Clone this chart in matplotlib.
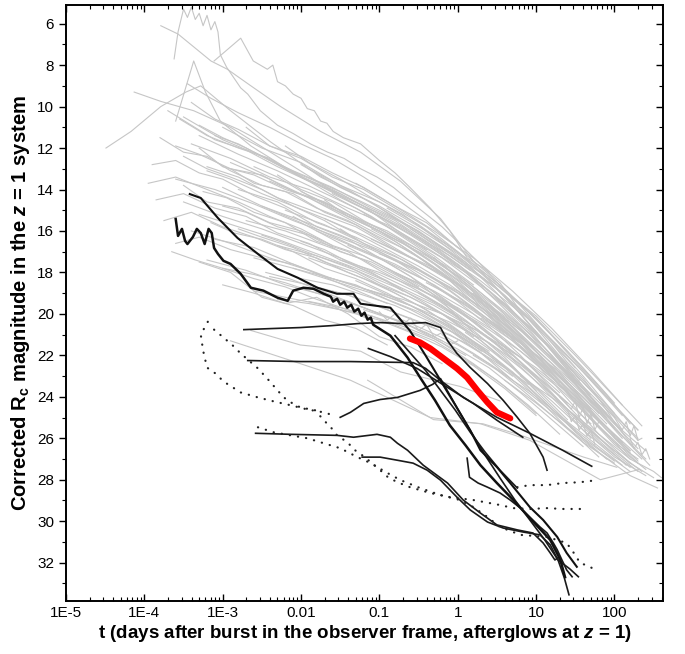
import numpy as np
import matplotlib
matplotlib.use('Agg')
import matplotlib.pyplot as plt
from matplotlib.ticker import LogLocator, MultipleLocator, NullFormatter

# ---- data: log10(t / days) and corrected Rc magnitudes ----

# light gray: the bulk of the afterglow sample
gray_logt = [
    [-3.62, -3.57, -3.50, -3.45, -3.40, -3.35, -3.30, -3.25, -3.20, -3.15, -3.10, -3.06, -3.03, -2.95, -2.86,
     -2.77, -2.68, -2.52, -2.30, -2.10, -1.88, -1.66, -1.45, -1.24, -1.03, -0.82, -0.50, -0.20, 0.10, 0.40],
    [-3.11, -2.77, -2.61, -2.43, -2.36, -2.30, -2.20, -2.10, -2.00, -1.92, -1.83, -1.75, -1.67, -1.59, -1.46,
     -1.24, -1.00, -0.80, -0.61, -0.35, -0.10, 0.12, 0.33, 0.54, 0.75, 0.96, 1.18, 1.39, 1.60, 1.82, 2.05, 2.24],
    [-3.60, -3.37, -3.22, -3.03, -2.64, -2.13, -1.62, -0.99, -0.35, 0.29, 0.92, 1.56],
    [-4.13, -3.79, -3.37, -2.90, -2.39, -1.88, -1.37, -0.73, -0.10, 0.54, 1.18, 1.69],
    [-4.49, -4.17, -3.79, -3.47, -3.28, -2.90, -2.39, -1.75, -1.11, -0.48, 0.16],
    [-3.79, -3.57, -3.15, -2.94, -2.64, -2.26, -1.75, -1.24, -0.73, -0.22, 0.29, 0.80, 1.31, 1.82],
    [-3.5, -3.0, -2.5, -2.0, -1.5, -1.0, -0.5, 0.0, 0.5, 1.0, 1.5],
    [-3.4, -2.9, -2.4, -1.9, -1.4, -0.9, -0.4, 0.1, 0.6, 1.1, 1.6, 2.0],
    [-3.2, -2.8, -2.3, -1.8, -1.3, -0.8, -0.3, 0.2, 0.7, 1.2, 1.7],
    [-3.6, -3.1, -2.6, -2.1, -1.6, -1.1, -0.6, -0.1, 0.4, 0.9, 1.4, 1.9],
    [-3.0, -2.5, -2.0, -1.5, -1.0, -0.5, 0.0, 0.5, 1.0, 1.5, 2.0, 2.3],
    [-2.8, -2.3, -1.8, -1.3, -0.8, -0.3, 0.2, 0.7, 1.2],
    [-2.6, -2.1, -1.6, -1.1, -0.6, -0.1, 0.4, 0.9, 1.4, 1.9, 2.2],
    [-3.3, -2.8, -2.3, -1.8, -1.3, -0.8, -0.3, 0.2, 0.7],
    [-2.4, -1.9, -1.4, -0.9, -0.4, 0.1, 0.6, 1.1, 1.6, 2.1],
    [-2.2, -1.7, -1.2, -0.7, -0.2, 0.3, 0.8, 1.3, 1.8],
    [-3.1, -2.6, -2.1, -1.6, -1.1, -0.6, -0.1, 0.4],
    [-2.0, -1.5, -1.0, -0.5, 0.0, 0.5, 1.0, 1.5, 2.0, 2.35],
    [-1.8, -1.3, -0.8, -0.3, 0.2, 0.7, 1.2, 1.7],
    [-2.7, -2.2, -1.7, -1.2, -0.7, -0.2, 0.3, 0.8, 1.3],
    [-1.6, -1.1, -0.6, -0.1, 0.4, 0.9, 1.4, 1.9, 2.3],
    [-3.5, -3.0, -2.5, -2.0, -1.5, -1.0, -0.5, 0.0],
    [-2.5, -2.0, -1.5, -1.0, -0.5, 0.0, 0.5, 1.0, 1.5, 2.0],
    [-1.4, -0.9, -0.4, 0.1, 0.6, 1.1, 1.6, 2.1],
    [-2.9, -2.4, -1.9, -1.4, -0.9, -0.4, 0.1, 0.6, 1.1],
    [-1.2, -0.7, -0.2, 0.3, 0.8, 1.3, 1.8, 2.2],
    [-2.3, -1.8, -1.3, -0.8, -0.3, 0.2, 0.7, 1.2, 1.7],
    [-1.0, -0.5, 0.0, 0.5, 1.0, 1.5, 2.0, 2.4],
    [-3.0, -2.5, -2.0, -1.5, -1.0, -0.5],
    [-1.9, -1.4, -0.9, -0.4, 0.1, 0.6, 1.1, 1.6, 2.1],
    [-0.8, -0.3, 0.2, 0.7, 1.2, 1.7, 2.2],
    [-2.1, -1.6, -1.1, -0.6, -0.1, 0.4, 0.9, 1.4],
    [-0.6, -0.1, 0.4, 0.9, 1.4, 1.9, 2.3],
    [-1.5, -1.0, -0.5, 0.0, 0.5, 1.0, 1.5],
    [-3.3, -2.8, -2.3, -1.8, -1.3, -0.8, -0.3, 0.2],
    [-0.4, 0.1, 0.6, 1.1, 1.6, 2.1, 2.4],
    [-2.6, -2.1, -1.6, -1.1, -0.6, -0.1, 0.4, 0.9],
    [-1.3, -0.8, -0.3, 0.2, 0.7, 1.2, 1.7, 2.1],
    [-0.2, 0.3, 0.8, 1.3, 1.8, 2.2],
    [-1.7, -1.2, -0.7, -0.2, 0.3, 0.8, 1.3, 1.8],
    [0.0, 0.5, 1.0, 1.5, 2.0, 2.3],
    [-2.4, -1.9, -1.4, -0.9, -0.4, 0.1, 0.6],
    [0.3, 0.8, 1.3, 1.8, 2.2, 2.45],
    [-1.1, -0.6, -0.1, 0.4, 0.9, 1.4, 1.9],
    [-3.4, -2.9, -2.4, -1.9, -1.4, -0.9],
    [0.5, 1.0, 1.5, 2.0, 2.35],
    [-2.0, -1.5, -1.0, -0.5, 0.0, 0.5, 1.0],
    [-0.9, -0.4, 0.1, 0.6, 1.1, 1.6, 2.0],
    [0.2, 0.7, 1.2, 1.7, 2.1],
    [-3.2, -2.7, -2.2, -1.7, -1.2, -0.7, -0.2],
    [-1.2, -0.7, -0.2, 0.3, 0.8, 1.3, 1.8, 2.3],
    [-2.90, -2.13, -1.37, -0.35, 0.29, 0.92, 1.82, 2.32],
    [-2.64, -2.01, -1.24, -0.73, 0.03, 0.54],
    [-1.15, -0.31, 0.32, 0.76, 1.60, 2.03],
    [-3.3, -2.9, -2.5, -2.1, -1.7, -1.3, -0.9],
    [-3.0, -2.6, -2.2, -1.8, -1.4, -1.0, -0.6, -0.2],
    [1.30, 1.45, 1.50, 1.55, 1.60, 1.65, 1.70, 1.75, 1.80],
    [2.00, 2.10, 2.15, 2.20, 2.25, 2.30, 2.35],
    [0.8, 1.3, 1.8, 2.2, 2.5, 2.6],
]
gray_mag = [
    [7.7, 6.4, 5.3, 5.7, 5.2, 5.8, 5.5, 6.1, 5.6, 6.3, 5.9, 6.4, 7.5, 8.1, 8.6,
     9.1, 9.4, 10.2, 10.9, 11.3, 11.8, 12.2, 12.5, 13.0, 13.4, 13.9, 14.9, 15.8, 16.9, 18.0],
    [7.8, 6.7, 7.8, 8.2, 8.0, 8.8, 9.0, 9.4, 9.6, 10.1, 10.2, 10.7, 10.8, 11.2, 11.5,
     11.8, 12.6, 13.2, 13.9, 14.9, 16.0, 17.3, 17.8, 18.5, 19.6, 20.5, 21.3, 22.3, 23.1, 24.2, 25.5, 26.4],
    [10.7, 7.8, 9.3, 10.7, 11.9, 13.1, 14.1, 15.3, 16.7, 18.4, 20.3, 23.2],
    [9.3, 9.75, 10.2, 11.0, 12.2, 13.4, 14.6, 15.8, 17.2, 18.9, 21.6, 23.9],
    [12.0, 11.2, 10.0, 9.3, 9.0, 10.2, 11.7, 13.4, 14.6, 16.2, 17.9],
    [6.1, 6.5, 7.8, 8.2, 9.0, 10.0, 11.2, 12.2, 13.6, 15.4, 17.9, 20.0, 22.3, 24.6],
    [10.5, 11.6, 12.4, 13.3, 14.1, 15.0, 16.0, 17.3, 18.8, 20.6, 22.6],
    [11.8, 12.5, 13.4, 14.0, 14.9, 15.7, 16.8, 18.0, 19.5, 21.3, 23.5, 25.0],
    [12.9, 13.4, 14.4, 15.1, 15.8, 16.9, 17.8, 19.1, 20.6, 22.4, 24.6],
    [13.5, 14.0, 14.7, 15.5, 16.2, 16.9, 17.8, 18.9, 20.3, 21.7, 23.4, 25.3],
    [11.0, 12.0, 12.7, 13.8, 14.6, 15.7, 17.0, 18.5, 20.2, 22.3, 24.4, 25.6],
    [14.0, 14.6, 15.6, 16.3, 17.2, 18.3, 19.7, 21.2, 23.0],
    [12.2, 13.1, 13.9, 14.9, 15.8, 17.0, 18.3, 19.9, 21.8, 23.9, 25.3],
    [15.2, 15.8, 16.4, 17.1, 17.8, 18.6, 19.5, 20.6, 22.0],
    [13.6, 14.4, 15.3, 16.2, 17.2, 18.4, 19.9, 21.6, 23.6, 25.7],
    [15.0, 15.7, 16.6, 17.4, 18.5, 19.7, 21.1, 22.9, 24.8],
    [16.4, 16.8, 17.6, 18.3, 18.9, 19.6, 20.6, 21.8],
    [12.8, 13.9, 14.8, 15.9, 17.1, 18.6, 20.1, 22.0, 24.0, 25.4],
    [16.0, 16.8, 17.6, 18.6, 19.8, 21.3, 23.0, 25.0],
    [15.5, 16.0, 16.7, 17.4, 18.4, 19.4, 20.6, 22.1, 23.8],
    [14.2, 15.1, 16.2, 17.4, 18.9, 20.6, 22.5, 24.5, 26.0],
    [14.6, 15.3, 15.9, 16.6, 17.3, 18.1, 19.0, 20.1],
    [14.8, 15.5, 16.2, 17.0, 17.9, 19.0, 20.4, 22.0, 23.8, 25.9],
    [16.7, 17.5, 18.4, 19.6, 20.9, 22.5, 24.3, 26.2],
    [12.7, 13.5, 14.4, 15.4, 16.4, 17.5, 18.9, 20.4, 22.2],
    [15.2, 16.2, 17.3, 18.7, 20.3, 22.1, 24.1, 25.8],
    [16.7, 17.2, 17.9, 18.7, 19.6, 20.7, 22.0, 23.6, 25.3],
    [17.1, 17.9, 18.9, 20.2, 21.7, 23.4, 25.3, 26.6],
    [13.9, 14.8, 15.6, 16.6, 17.6, 18.7],
    [13.0, 14.0, 15.1, 16.3, 17.6, 19.1, 20.9, 22.8, 24.9],
    [18.0, 18.9, 20.0, 21.3, 22.9, 24.7, 26.6],
    [17.8, 18.3, 18.9, 19.6, 20.4, 21.4, 22.7, 24.3],
    [15.9, 17.1, 18.5, 20.1, 22.0, 24.0, 25.6],
    [17.4, 18.0, 18.8, 19.7, 20.9, 22.4, 24.1],
    [11.4, 12.3, 13.1, 14.0, 14.9, 16.0, 17.2, 18.6],
    [18.5, 19.5, 20.8, 22.3, 24.0, 25.9, 27.0],
    [17.3, 17.8, 18.4, 19.0, 19.8, 20.8, 22.0, 23.4],
    [13.7, 14.8, 16.0, 17.3, 18.9, 20.7, 22.7, 24.4],
    [19.4, 20.5, 21.8, 23.4, 25.2, 26.7],
    [15.4, 16.2, 17.1, 18.1, 19.3, 20.8, 22.6, 24.6],
    [17.6, 19.2, 20.9, 22.8, 24.8, 26.1],
    [18.2, 18.6, 19.1, 19.8, 20.5, 21.4, 22.6],
    [20.2, 21.4, 22.8, 24.6, 26.3, 27.3],
    [16.4, 17.3, 18.3, 19.6, 21.1, 22.8, 24.8],
    [16.0, 16.6, 17.3, 17.9, 18.7, 19.5],
    [21.3, 22.6, 24.1, 25.8, 27.0],
    [14.1, 15.0, 15.9, 16.9, 18.2, 19.7, 21.4],
    [14.9, 16.0, 17.3, 18.8, 20.6, 22.6, 24.3],
    [19.0, 20.4, 22.1, 24.0, 25.6],
    [17.4, 17.9, 18.6, 19.1, 19.7, 20.4, 21.3],
    [18.8, 19.3, 20.0, 20.9, 22.1, 23.6, 25.4, 27.2],
    [21.3, 22.25, 23.2, 25.0, 25.3, 26.1, 28.0, 27.5],
    [20.8, 21.5, 21.8, 22.8, 23.5, 24.2],
    [23.2, 25.1, 25.3, 25.8, 26.9, 27.4],
    [17.5, 18.0, 19.2, 19.6, 20.3, 20.7, 21.5],
    [18.6, 19.0, 19.5, 19.2, 20.0, 21.1, 21.6, 22.4],
    [24.0, 24.6, 24.2, 25.0, 24.5, 25.3, 24.8, 25.6, 25.2],
    [25.0, 25.6, 25.2, 25.9, 25.4, 26.1, 26.0],
    [23.0, 24.3, 25.8, 27.0, 27.6, 27.9],
]

# more light gray curves filling the dense band
band_logt = [
    [-3.9, -3.6, -3.3, -3.0, -2.6, -2.2, -1.8, -1.4, -1.0, -0.6, -0.2, 0.2],
    [-3.8, -3.5, -3.2, -2.9, -2.5, -2.1, -1.7, -1.3, -0.9, -0.5, -0.1, 0.3, 0.7],
    [-3.7, -3.4, -3.1, -2.7, -2.3, -1.9, -1.5, -1.1, -0.7, -0.3, 0.1, 0.5, 0.9, 1.3],
    [-3.6, -3.3, -2.9, -2.5, -2.1, -1.7, -1.3, -0.9, -0.5, -0.1, 0.3, 0.7, 1.1, 1.5, 1.9],
    [-3.5, -3.2, -2.8, -2.4, -2.0, -1.6, -1.2, -0.8, -0.4, 0.0, 0.4],
    [-3.85, -3.5, -3.1, -2.7, -2.3, -1.9, -1.5, -1.1, -0.7],
    [-3.4, -3.1, -2.8, -2.4, -2.0, -1.6, -1.2, -0.8, -0.4, 0.0, 0.4, 0.8, 1.2, 1.6, 2.0],
    [-3.3, -3.0, -2.6, -2.2, -1.8, -1.4, -1.0, -0.6, -0.2, 0.2, 0.6, 1.0, 1.4],
    [-3.2, -2.9, -2.5, -2.1, -1.7, -1.3, -0.9, -0.5, -0.1, 0.3, 0.7, 1.1, 1.5, 1.9, 2.2],
    [-3.75, -3.4, -3.0, -2.6, -2.2, -1.8, -1.4, -1.0, -0.6, -0.2, 0.2],
    [-3.1, -2.8, -2.4, -2.0, -1.6, -1.2, -0.8, -0.4, 0.0, 0.4, 0.8, 1.2, 1.6, 2.0],
    [-3.6, -3.3, -2.9, -2.5, -2.1, -1.7, -1.3, -0.9, -0.5, -0.1, 0.3, 0.7],
    [-2.9, -2.6, -2.2, -1.8, -1.4, -1.0, -0.6, -0.2, 0.2, 0.6, 1.0, 1.4, 1.8, 2.2],
    [-3.45, -3.15, -2.8, -2.4, -2.0, -1.6, -1.2, -0.8, -0.4, 0.0],
    [-3.0, -2.7, -2.3, -1.9, -1.5, -1.1, -0.7, -0.3, 0.1, 0.5, 0.9, 1.3, 1.7],
    [-2.7, -2.4, -2.0, -1.6, -1.2, -0.8, -0.4, 0.0, 0.4, 0.8, 1.2, 1.6, 2.0, 2.3],
    [-2.5, -2.2, -1.8, -1.4, -1.0, -0.6, -0.2, 0.2, 0.6, 1.0, 1.4],
    [-3.55, -3.2, -2.8, -2.4, -2.0, -1.6, -1.2, -0.8, -0.4],
    [-2.3, -2.0, -1.6, -1.2, -0.8, -0.4, 0.0, 0.4, 0.8, 1.2, 1.6, 2.0, 2.4],
    [-1.9, -1.6, -1.2, -0.8, -0.4, 0.0, 0.4, 0.8, 1.2, 1.6, 2.0],
    [-3.25, -2.95, -2.6, -2.2, -1.8, -1.4, -1.0, -0.6, -0.2, 0.2, 0.6, 1.0],
    [-2.2, -1.9, -1.5, -1.1, -0.7, -0.3, 0.1, 0.5, 0.9, 1.3, 1.7, 2.1],
    [-1.5, -1.2, -0.8, -0.4, 0.0, 0.4, 0.8, 1.2, 1.6, 2.0, 2.3],
    [-3.65, -3.35, -3.0, -2.6, -2.2, -1.8, -1.4, -1.0],
    [-2.8, -2.5, -2.1, -1.7, -1.3, -0.9, -0.5, -0.1, 0.3, 0.7, 1.1, 1.5, 1.9],
    [-1.7, -1.4, -1.0, -0.6, -0.2, 0.2, 0.6, 1.0, 1.4, 1.8, 2.2],
    [-0.9, -0.6, -0.2, 0.2, 0.6, 1.0, 1.4, 1.8, 2.15],
    [-2.6, -2.3, -1.9, -1.5, -1.1, -0.7, -0.3, 0.1, 0.5],
    [-3.15, -2.85, -2.5, -2.1, -1.7, -1.3, -0.9, -0.5, -0.1, 0.3],
    [-0.5, -0.2, 0.2, 0.6, 1.0, 1.4, 1.8, 2.2, 2.5],
    [-2.0, -1.7, -1.3, -0.9, -0.5, -0.1, 0.3, 0.7, 1.1, 1.5],
    [-3.95, -3.6, -3.2, -2.8, -2.4, -2.0, -1.6],
    [-1.1, -0.8, -0.4, 0.0, 0.4, 0.8, 1.2, 1.6, 2.0, 2.3],
    [-2.45, -2.15, -1.8, -1.4, -1.0, -0.6, -0.2, 0.2, 0.6, 1.0],
    [-0.3, 0.0, 0.4, 0.8, 1.2, 1.6, 2.0, 2.3],
    [-3.3, -3.0, -2.7, -2.3, -1.9, -1.5, -1.1, -0.7, -0.3, 0.1, 0.5, 0.9, 1.3],
    [0.1, 0.4, 0.8, 1.2, 1.6, 2.0, 2.4],
    [-1.3, -1.0, -0.6, -0.2, 0.2, 0.6, 1.0, 1.4, 1.8],
    [-3.5, -3.2, -2.9, -2.5, -2.1, -1.7, -1.3],
    [-2.1, -1.8, -1.4, -1.0, -0.6, -0.2, 0.2, 0.6, 1.0, 1.4, 1.8, 2.2],
]
band_mag = [
    [12.8, 12.6, 13.2, 13.5, 14.3, 14.9, 15.8, 16.4, 17.3, 18.2, 19.4, 20.9],
    [11.5, 12.2, 12.4, 13.1, 13.8, 14.2, 15.1, 15.7, 16.6, 17.5, 18.4, 19.8, 21.2],
    [10.2, 10.9, 11.6, 12.1, 12.9, 13.6, 14.2, 15.0, 15.8, 16.9, 18.0, 19.4, 20.9, 22.6],
    [11.9, 12.3, 13.0, 13.3, 14.1, 14.6, 15.4, 16.0, 16.9, 17.8, 19.0, 20.3, 21.8, 23.3, 25.0],
    [13.8, 14.6, 14.9, 15.6, 16.0, 16.7, 17.2, 18.0, 18.7, 19.8, 21.0],
    [14.5, 14.2, 14.9, 15.3, 16.1, 16.6, 17.4, 18.0, 18.9],
    [9.8, 10.6, 11.1, 11.9, 12.4, 13.2, 13.9, 14.8, 15.6, 16.8, 18.1, 19.6, 21.3, 23.0, 24.8],
    [12.0, 12.9, 13.3, 14.0, 14.5, 15.3, 16.0, 16.8, 17.8, 18.9, 20.3, 21.8, 23.4],
    [13.1, 13.5, 14.2, 14.8, 15.4, 16.1, 16.9, 17.7, 18.6, 19.7, 21.0, 22.4, 24.0, 25.6, 26.6],
    [15.5, 15.1, 15.8, 16.3, 16.9, 17.3, 18.0, 18.6, 19.2, 20.0, 21.1],
    [11.4, 11.8, 12.6, 13.4, 14.1, 14.8, 15.5, 16.5, 17.6, 18.9, 20.4, 22.0, 23.8, 25.5],
    [16.6, 16.3, 16.9, 17.3, 17.6, 18.2, 18.6, 19.3, 19.9, 20.8, 21.9, 23.2],
    [13.0, 13.7, 14.1, 14.9, 15.5, 16.3, 17.0, 18.0, 19.1, 20.5, 22.0, 23.7, 25.4, 27.0],
    [8.9, 9.6, 10.3, 11.0, 11.8, 12.5, 13.4, 14.4, 15.5, 16.8],
    [14.8, 15.1, 15.8, 16.2, 17.0, 17.5, 18.3, 19.2, 20.3, 21.5, 22.9, 24.4, 26.0],
    [11.0, 11.9, 12.5, 13.4, 14.0, 14.9, 15.8, 17.0, 18.4, 20.0, 21.8, 23.6, 25.3, 26.5],
    [16.2, 16.6, 17.2, 17.7, 18.5, 19.2, 20.0, 21.0, 22.2, 23.6, 25.1],
    [10.6, 11.4, 12.0, 12.5, 13.4, 14.0, 14.8, 15.9, 16.9],
    [13.3, 14.0, 14.6, 15.5, 16.3, 17.3, 18.4, 19.8, 21.3, 23.0, 24.7, 26.3, 27.5],
    [17.3, 17.7, 18.3, 19.0, 19.8, 20.8, 21.9, 23.2, 24.6, 26.0, 27.1],
    [14.1, 14.4, 15.1, 15.6, 16.5, 17.0, 17.9, 18.7, 19.6, 20.8, 22.1, 23.7],
    [11.9, 12.7, 13.5, 14.4, 15.2, 16.3, 17.5, 19.0, 20.7, 22.5, 24.3, 26.0],
    [15.9, 16.6, 17.4, 18.4, 19.4, 20.6, 22.0, 23.6, 25.2, 26.7, 27.6],
    [17.0, 17.4, 17.8, 18.3, 18.7, 19.3, 19.8, 20.5],
    [15.9, 16.3, 16.8, 17.5, 18.0, 18.8, 19.6, 20.5, 21.6, 22.8, 24.2, 25.7, 27.0],
    [14.5, 15.3, 16.0, 17.0, 18.1, 19.3, 20.8, 22.4, 24.1, 25.8, 27.2],
    [17.8, 18.4, 19.3, 20.4, 21.6, 23.0, 24.6, 26.1, 27.3],
    [12.9, 13.4, 14.3, 15.0, 15.8, 16.6, 17.6, 18.8, 20.1],
    [15.6, 16.1, 16.4, 17.0, 17.8, 18.3, 19.0, 19.8, 20.7, 21.8],
    [19.0, 19.6, 20.6, 21.8, 23.1, 24.6, 26.0, 27.2, 27.9],
    [16.5, 16.9, 17.7, 18.4, 19.3, 20.2, 21.3, 22.6, 24.1, 25.6],
    [13.7, 13.4, 14.0, 14.6, 15.3, 15.9, 16.7],
    [15.9, 16.5, 17.5, 18.6, 19.9, 21.4, 23.0, 24.7, 26.2, 27.0],
    [18.0, 18.3, 18.8, 19.4, 20.0, 20.6, 21.4, 22.4, 23.5, 24.8],
    [17.3, 18.2, 19.5, 21.0, 22.6, 24.3, 26.0, 27.1],
    [10.9, 11.5, 12.0, 12.8, 13.6, 14.5, 15.3, 16.3, 17.3, 18.6, 20.0, 21.6, 23.3],
    [20.9, 21.7, 22.9, 24.2, 25.6, 26.9, 27.8],
    [18.4, 18.9, 19.6, 20.4, 21.4, 22.6, 24.0, 25.5, 26.9],
    [12.4, 13.0, 13.4, 14.0, 14.8, 15.5, 16.4],
    [15.3, 15.9, 16.6, 17.3, 18.2, 19.2, 20.3, 21.6, 23.1, 24.7, 26.2, 27.4],
]

# light gray curves in the lower, fainter part of the band
lower_logt = [
    [-2.6, -2.2, -1.8, -1.4, -1.0, -0.6, -0.2, 0.2, 0.6, 1.0],
    [-1.9, -1.5, -1.1, -0.7, -0.3, 0.1, 0.5, 0.9, 1.3],
    [-1.2, -0.8, -0.4, 0.0, 0.4, 0.8, 1.2, 1.6],
    [-0.7, -0.4, 0.0, 0.4, 0.8, 1.2, 1.6, 2.0],
    [-2.3, -1.9, -1.5, -1.1, -0.7, -0.3, 0.1],
    [-0.2, 0.2, 0.6, 1.0, 1.4, 1.8, 2.2],
    [-1.6, -1.3, -0.9, -0.5, -0.1, 0.3, 0.7],
    [0.2, 0.5, 0.9, 1.3, 1.7, 2.1],
    [-1.0, -0.9, -0.8, -0.7, -0.6, -0.5, -0.4, -0.3, -0.2, -0.1, 0.0],
    [-3.0, -2.6, -2.2, -1.8, -1.4, -1.0],
    [1.40, 1.45, 1.50, 1.55, 1.60, 1.65, 1.70, 1.75],
    [2.20, 2.25, 2.30, 2.35, 2.40, 2.45],
    [-0.4, 0.0, 0.4, 0.8, 1.2, 1.6, 2.0, 2.35],
    [-2.0, -1.6, -1.2, -0.8, -0.4, 0.0, 0.4],
    [0.6, 1.0, 1.4, 1.8, 2.2, 2.55],
]
lower_mag = [
    [18.9, 19.2, 19.5, 19.9, 20.3, 20.9, 21.6, 22.5, 23.6, 24.9],
    [19.4, 19.7, 20.1, 20.7, 21.3, 22.2, 23.2, 24.4, 25.8],
    [19.8, 20.3, 20.9, 21.7, 22.6, 23.8, 25.1, 26.4],
    [20.3, 20.8, 21.5, 22.4, 23.6, 24.9, 26.2, 27.2],
    [19.3, 19.5, 19.8, 20.1, 20.6, 21.2, 22.0],
    [21.0, 21.9, 22.9, 24.1, 25.3, 26.5, 27.6],
    [18.9, 19.2, 19.8, 20.4, 21.0, 21.9, 23.0],
    [22.0, 22.7, 23.7, 24.9, 26.1, 27.3],
    [19.9, 20.3, 20.0, 20.5, 20.2, 20.8, 20.5, 21.1, 20.9, 21.5, 21.3],
    [17.8, 18.1, 18.5, 19.0, 19.4, 20.0],
    [24.6, 25.2, 24.9, 25.6, 25.3, 25.9, 25.6, 26.3],
    [26.0, 26.5, 26.2, 26.8, 26.5, 27.0],
    [19.6, 20.4, 21.4, 22.6, 23.9, 25.3, 26.6, 27.6],
    [18.3, 18.6, 19.1, 19.6, 20.3, 21.0, 21.9],
    [23.2, 24.3, 25.5, 26.7, 27.8, 28.4],
]

# black: the dark / sub-luminous afterglows
k1_logt = [-3.42, -3.28, -3.06, -2.81, -2.55, -2.30, -2.04, -1.79, -1.54, -1.33, -1.24, -0.86, -0.61,
           -0.41, -0.22, -0.03, 0.16, 0.29, 0.50, 0.67, 0.92, 1.09, 1.27, 1.39, 1.52]
k1_mag = [14.22, 14.41, 15.38, 16.34, 17.11, 17.83, 18.26, 18.74, 19.03, 19.03, 19.51, 19.70, 20.81,
          22.01, 23.21, 24.41, 25.62, 26.58, 27.39, 28.16, 29.32, 29.94, 30.76, 31.53, 32.20]

b1_logt = [-3.60, -3.57, -3.52, -3.48, -3.45, -3.38, -3.33, -3.28, -3.23, -3.18, -3.14, -3.11, -3.06,
           -2.99, -2.90, -2.77, -2.64, -2.48, -2.30, -2.17, -2.10, -1.97, -1.84, -1.71, -1.62, -1.59,
           -1.54, -1.50, -1.45, -1.41, -1.36, -1.32, -1.27, -1.23, -1.19, -1.15, -1.11, -1.08, -0.86,
           -0.64, -0.48, -0.29, -0.10, 0.10, 0.29, 0.50, 0.71, 0.92, 1.18, 1.31, 1.37]
b1_mag = [15.42, 16.24, 15.90, 16.48, 16.63, 16.29, 15.90, 16.10, 16.63, 15.90, 16.10, 16.82, 17.11,
          17.44, 17.59, 18.07, 18.74, 18.88, 19.22, 19.37, 18.88, 18.74, 18.79, 19.03, 19.17, 19.41,
          19.27, 19.56, 19.41, 19.70, 19.56, 19.89, 19.75, 20.09, 19.94, 20.28, 20.18, 20.52, 21.05,
          22.11, 23.07, 24.17, 25.38, 26.34, 27.30, 28.16, 28.98, 29.85, 30.90, 31.87, 32.70]

h21_logt = [-2.73, -2.39, -2.01, -1.62, -1.28, -0.99, -0.69, -0.41, -0.22, -0.13, -0.01, 0.16, 0.38,
            0.58, 0.76, 0.92, 1.09, 1.14]
h21_mag = [20.76, 20.71, 20.66, 20.57, 20.47, 20.42, 20.47, 20.42, 20.66, 21.29, 21.91, 22.59, 23.36,
           24.17, 24.99, 25.76, 26.91, 27.54]

h22_logt = [-2.68, -2.01, -1.37, -0.57, -0.41, -0.22, 0.07, 0.50, 0.92, 1.34, 1.71]
h22_mag = [22.25, 22.30, 22.30, 22.35, 22.63, 23.21, 24.03, 24.99, 25.76, 26.58, 27.35]

l215_logt = [-1.14, -0.86, -0.52, -0.13, 0.20, 0.50, 0.83]
l215_mag = [21.67, 22.06, 22.63, 23.55, 24.32, 25.13, 25.95]

lg_logt = [-1.50, -1.37, -1.20, -0.99, -0.77, -0.48, -0.32, -0.22, -0.12, 0.01, 0.16, 0.35, 0.54,
           0.73, 0.92, 1.11, 1.28, 1.43, 1.54]
lg_mag = [24.99, 24.75, 24.32, 24.13, 24.03, 23.69, 23.40, 23.12, 23.79, 24.65, 25.62, 26.82, 27.92,
          28.98, 29.94, 30.90, 31.87, 32.30, 32.68]

le_logt = [-2.58, -2.13, -1.54, -1.33, -1.03, -0.86, -0.77, -0.64, -0.44, -0.13, 0.07, 0.29, 0.50,
           0.76, 0.96, 1.09, 1.18, 1.24, 1.28]
le_mag = [25.76, 25.81, 25.86, 25.95, 25.81, 25.95, 26.24, 26.58, 27.30, 28.16, 28.98, 29.61, 30.18,
          30.42, 30.57, 31.05, 31.53, 31.87, 31.77]

lf_logt = [-1.22, -0.99, -0.77, -0.57, -0.39, -0.22, -0.01, 0.16, 0.38, 0.58, 0.83, 1.05, 1.18, 1.28,
           1.36, 1.42]
lf_mag = [26.91, 26.91, 27.06, 27.20, 27.54, 28.02, 28.84, 29.46, 30.04, 30.33, 30.52, 30.66, 31.14,
          31.87, 32.73, 33.55]

ld_logt = [0.12, 0.15, 0.26, 0.38, 0.54, 0.67, 0.80, 0.92, 1.05, 1.14, 1.22, 1.27, 1.33, 1.39, 1.46]
ld_mag = [26.96, 27.88, 28.16, 28.36, 28.64, 28.98, 29.37, 29.80, 30.28, 30.57, 31.05, 31.38, 31.87,
          32.35, 32.68]

lx_logt = [-0.80, -0.61, -0.41, -0.22, -0.03, 0.16, 0.35, 0.54, 0.76]
lx_mag = [21.05, 21.87, 22.73, 23.69, 24.65, 25.71, 26.67, 27.54, 28.40]

# dotted black
dota_logt = [-3.19, -3.28, -3.25, -3.20, -3.09, -2.99, -2.87, -2.77, -2.55, -2.35, -2.13, -1.92, -1.71, -1.59]
dota_mag = [20.38, 21.00, 21.77, 22.59, 22.88, 23.26, 23.55, 23.79, 24.03, 24.22, 24.41, 24.61, 24.75, 24.89]

dotb_logt = [-3.11, -2.99, -2.87, -2.77, -2.55, -2.41, -2.30, -2.22, -2.13, -2.01, -1.82, -1.71, -1.62,
             -1.54, -1.41, -1.31, -1.20, -1.11, -0.99, -0.89, -0.77, -0.61, -0.35, -0.10, 0.20, 0.54,
             0.71, 0.92, 1.14, 1.34, 1.56]
dotb_mag = [20.76, 21.14, 21.53, 21.91, 22.63, 23.21, 23.69, 24.03, 24.27, 24.51, 24.65, 25.13, 25.47,
            25.86, 26.19, 26.58, 26.87, 27.15, 27.54, 27.88, 28.12, 28.36, 28.64, 28.84, 28.98, 29.22,
            29.37, 29.41, 29.37, 29.41, 29.41]

dotc_logt = [-2.55, -2.35, -2.13, -1.92, -1.71, -1.50, -1.28, -1.11, -0.92, -0.73, -0.48, -0.22, 0.03,
             0.20, 0.38, 0.54, 0.80, 1.14, 1.39, 1.50, 1.56, 1.69, 1.78]
dotc_mag = [25.47, 25.71, 25.86, 26.00, 26.24, 26.48, 26.91, 27.20, 27.63, 28.02, 28.40, 28.74, 28.98,
            29.32, 29.80, 30.28, 30.66, 30.76, 31.05, 31.63, 32.01, 32.20, 32.44]

dotd_logt = [0.76, 0.92, 1.14, 1.34, 1.56, 1.78]
dotd_mag = [28.36, 28.26, 28.26, 28.16, 28.12, 28.02]

# red: the highlighted afterglow
red_logt = [-0.61, -0.48, -0.35, -0.18, -0.01, 0.12, 0.25, 0.38, 0.50, 0.67]
red_mag = [21.19, 21.38, 21.67, 22.15, 22.63, 23.07, 23.69, 24.27, 24.75, 25.04]

xtick_values = [1e-5, 1e-4, 1e-3, 0.01, 0.1, 1, 10, 100]
xtick_labels = ['1E-5', '1E-4', '1E-3', '0.01', '0.1', '1', '10', '100']


def days(logt):
    return 10 ** np.asarray(logt)


def afterglow_chart():
    plt.rcParams['font.family'] = ['Liberation Sans', 'DejaVu Sans']
    plt.rcParams['mathtext.fontset'] = 'custom'
    plt.rcParams['mathtext.rm'] = 'Liberation Sans:bold'
    plt.rcParams['mathtext.it'] = 'Liberation Sans:italic:bold'
    plt.rcParams['mathtext.bf'] = 'Liberation Sans:bold'

    fig = plt.figure(figsize=(6.85, 6.54), dpi=100)
    ax = fig.add_axes([66 / 685, 53 / 654, 597 / 685, 596 / 654])

    for lt, mag in zip(gray_logt + band_logt + lower_logt, gray_mag + band_mag + lower_mag):
        ax.plot(days(lt), mag, color='#c6c6c6', lw=0.8, zorder=1)

    solid = [(h21_logt, h21_mag), (h22_logt, h22_mag), (l215_logt, l215_mag), (lg_logt, lg_mag),
             (le_logt, le_mag), (lf_logt, lf_mag), (ld_logt, ld_mag), (lx_logt, lx_mag)]
    for lt, mag in solid:
        ax.plot(days(lt), mag, color='#1a1a1a', lw=1.2, zorder=3)
    ax.plot(days(k1_logt), k1_mag, color='#111111', lw=1.5, zorder=3)
    ax.plot(days(b1_logt), b1_mag, color='#111111', lw=1.8, zorder=3)

    for lt, mag in [(dota_logt, dota_mag), (dotb_logt, dotb_mag), (dotc_logt, dotc_mag), (dotd_logt, dotd_mag)]:
        ax.plot(days(lt), mag, color='#222222', lw=1.6, ls=(0, (0.1, 3.6)), dash_capstyle='round', zorder=3)

    ax.plot(days(red_logt), red_mag, color='#ff0000', lw=4.5, solid_capstyle='round', zorder=4)

    ax.set_xscale('log')
    ax.set_xlim(1e-5, 10 ** 2.62)
    ax.set_xticks(xtick_values)
    ax.set_xticklabels(xtick_labels)
    ax.xaxis.set_minor_locator(LogLocator(base=10, subs=range(2, 10), numticks=20))
    ax.xaxis.set_minor_formatter(NullFormatter())
    ax.tick_params(axis='x', which='both', direction='in', top=True, labelsize=11)
    ax.tick_params(axis='x', which='major', length=5, width=1)
    ax.tick_params(axis='x', which='minor', length=3, width=0.8)

    ax.set_ylim(33.85, 5.1)
    ax.yaxis.set_major_locator(MultipleLocator(2))
    ax.yaxis.set_minor_locator(MultipleLocator(1))
    ax.tick_params(axis='y', which='both', direction='out', right=False, labelsize=11)
    ax.tick_params(axis='y', which='major', length=5, width=1)
    ax.tick_params(axis='y', which='minor', length=3, width=0.8)

    # right-hand ticks point inwards
    axr = ax.twinx()
    axr.set_ylim(ax.get_ylim())
    axr.yaxis.set_major_locator(MultipleLocator(2))
    axr.yaxis.set_minor_locator(MultipleLocator(1))
    axr.tick_params(axis='y', which='both', direction='in', labelright=False)
    axr.tick_params(axis='y', which='major', length=5, width=1)
    axr.tick_params(axis='y', which='minor', length=3, width=0.8)

    for a in (ax, axr):
        for s in a.spines.values():
            s.set_linewidth(1.2)

    ax.set_xlabel(r't (days after burst in the observer frame, afterglows at $z$ = 1)',
                  fontsize=13.5, fontweight='bold', labelpad=2)
    ax.set_ylabel(r'Corrected R$_{\rm c}$ magnitude in the $z$ = 1 system',
                  fontsize=14.5, fontweight='bold', labelpad=4)

    fig.savefig('out.png', dpi=100)


if __name__ == "__main__":
    afterglow_chart()
